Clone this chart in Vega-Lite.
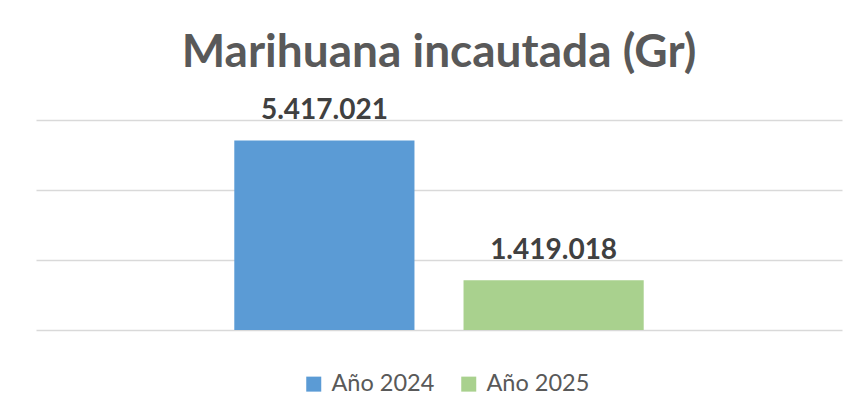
{
  "$schema": "https://vega.github.io/schema/vega-lite/v6.json",
  "width": 806,
  "height": 210,
  "autosize": {"type": "none"},
  "padding": {"left": 36, "top": 120, "right": 17, "bottom": 86},
  "background": "white",
  "title": {
    "text": "Marihuana incautada (Gr)",
    "font": "Lato",
    "fontSize": 46,
    "fontWeight": "bold",
    "color": "#595959",
    "anchor": "middle",
    "baseline": "alphabetic",
    "offset": -16
  },
  "data": {
    "values": [
      {"serie": "Año 2024", "valor": 5417021},
      {"serie": "Año 2025", "valor": 1419018}
    ]
  },
  "encoding": {
    "x": {
      "field": "serie",
      "type": "nominal",
      "axis": null,
      "scale": {"paddingInner": 0.214, "paddingOuter": 0.865}
    },
    "y": {
      "field": "valor",
      "type": "quantitative",
      "scale": {"domain": [0, 6000000], "nice": false},
      "axis": {
        "values": [0, 2000000, 4000000, 6000000],
        "labels": false,
        "ticks": false,
        "domain": false,
        "title": null,
        "grid": true,
        "gridColor": "#D9D9D9",
        "gridWidth": 1.5
      }
    }
  },
  "layer": [
    {
      "mark": {"type": "bar"},
      "encoding": {
        "color": {
          "field": "serie",
          "type": "nominal",
          "scale": {"domain": ["Año 2024", "Año 2025"], "range": ["#5B9BD5", "#A9D18E"]},
          "legend": {
            "orient": "none",
            "legendX": 266,
            "legendY": 252,
            "direction": "horizontal",
            "title": null,
            "symbolType": "square",
            "symbolSize": 225,
            "symbolStrokeWidth": 0,
            "labelFont": "Lato",
            "labelFontSize": 23.5,
            "labelColor": "#595959",
            "labelOffset": 6,
            "columnPadding": 22
          }
        }
      }
    },
    {
      "mark": {
        "type": "text",
        "font": "Lato",
        "fontSize": 28,
        "fontWeight": "bold",
        "color": "#404040",
        "baseline": "alphabetic",
        "dy": -21
      },
      "encoding": {
        "text": {"field": "valor", "type": "quantitative", "format": ",.0f"}
      }
    }
  ],
  "config": {
    "view": {"stroke": null},
    "locale": {
      "number": {"decimal": ",", "thousands": ".", "grouping": [3], "currency": ["", " €"]}
    }
  }
}
